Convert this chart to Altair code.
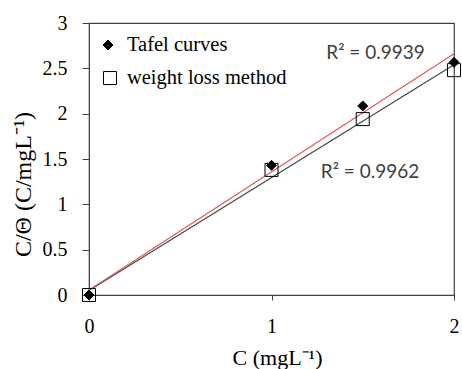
import altair as alt
import pandas as pd

conc = [0, 1, 1.5, 2]
tafel = [0, 1.43, 2.085, 2.566]
weight = [0, 1.38, 1.94, 2.48]
series_names = ["Tafel curves", "weight loss method"]

r2_labels = ["R² = 0.9939", "R² = 0.9962"]
r2_x = [1.57, 1.54]
r2_y = [2.67, 1.36]

# legend placement (data units)
leg_sym_x = [0.104, 0.115]
leg_txt_x = [0.208, 0.208]
leg_y = [2.757, 2.393]

rows = []
for c, w in zip(conc, weight):
    rows.append({"C": c, "v": w, "series": series_names[1]})
for c, t in zip(conc, tafel):
    rows.append({"C": c, "v": t, "series": series_names[0]})
df = pd.DataFrame(rows)
ann = pd.DataFrame({"x": r2_x, "y": r2_y, "t": r2_labels})
leg_df = pd.DataFrame({"series": series_names, "sx": leg_sym_x, "tx": leg_txt_x, "y": leg_y})

xs = alt.Scale(domain=[0, 2])
ys = alt.Scale(domain=[0, 3])

x_axis = alt.Axis(values=[0, 1, 2], format="~g", title="C (mgL⁻¹)", grid=False,
                  tickSize=5, labelPadding=16, labelFontSize=20, titleFontSize=22,
                  labelFlush=False,
                  titleX=188, titleY=62, titleBaseline="middle")
y_axis = alt.Axis(values=[0, 0.5, 1, 1.5, 2, 2.5, 3], format=".1~f",
                  title="C/Θ (C/mgL⁻¹)", grid=False, tickSize=7, labelPadding=15,
                  labelFontSize=20, titleFontSize=24, labelFlush=False,
                  titleX=-66, titleY=161, titleBaseline="middle")

shape_scale = alt.Scale(domain=series_names, range=["diamond", "square"])
fill_scale = alt.Scale(domain=series_names, range=["black", "transparent"])

base = alt.Chart(df)

points = base.mark_point(filled=False, opacity=1, strokeWidth=1, stroke="black").encode(
    x=alt.X("C:Q", scale=xs, axis=x_axis),
    y=alt.Y("v:Q", scale=ys, axis=y_axis),
    shape=alt.Shape("series:N", scale=shape_scale, legend=None),
    fill=alt.Fill("series:N", scale=fill_scale, legend=None),
    size=alt.Size("series:N", scale=alt.Scale(domain=series_names, range=[100, 169]), legend=None),
)

line_t = base.transform_filter(alt.datum.series == series_names[0]).transform_regression(
    "C", "v").mark_line(strokeWidth=1.2, color="#dc5a5a").encode(
    x=alt.X("C:Q", scale=xs), y=alt.Y("v:Q", scale=ys))
line_w = base.transform_filter(alt.datum.series == series_names[1]).transform_regression(
    "C", "v").mark_line(strokeWidth=1.2, color="#454545").encode(
    x=alt.X("C:Q", scale=xs), y=alt.Y("v:Q", scale=ys))

texts = alt.Chart(ann).mark_text(font="Lato", fontSize=19, color="#404040").encode(
    x=alt.X("x:Q", scale=xs),
    y=alt.Y("y:Q", scale=ys),
    text="t:N",
)

leg_sym = alt.Chart(leg_df).mark_point(filled=False, opacity=1, strokeWidth=1, stroke="black").encode(
    x=alt.X("sx:Q", scale=xs),
    y=alt.Y("y:Q", scale=ys),
    shape=alt.Shape("series:N", scale=shape_scale, legend=None),
    fill=alt.Fill("series:N", scale=fill_scale, legend=None),
    size=alt.Size("series:N", scale=alt.Scale(domain=series_names, range=[100, 121]), legend=None),
)
leg_txt = alt.Chart(leg_df).mark_text(font="Liberation Serif", fontSize=20.5, color="black",
                                      align="left", baseline="middle").encode(
    x=alt.X("tx:Q", scale=xs),
    y=alt.Y("y:Q", scale=ys),
    text="series:N",
)

chart = alt.layer(line_w, line_t, points, texts, leg_sym, leg_txt).properties(
    width=365, height=272,
    autosize=alt.AutoSizeParams(type="none"),
    padding={"left": 89, "top": 23, "right": 8, "bottom": 74},
).configure_view(stroke="#404040", strokeWidth=1.2).configure_axis(
    labelFont="Liberation Serif", labelColor="black",
    titleFont="Liberation Serif", titleColor="black", titleFontWeight="normal",
    domainColor="#404040", tickColor="#404040",
)

chart.save("out.html", embed_options={"renderer": "svg", "actions": False})
